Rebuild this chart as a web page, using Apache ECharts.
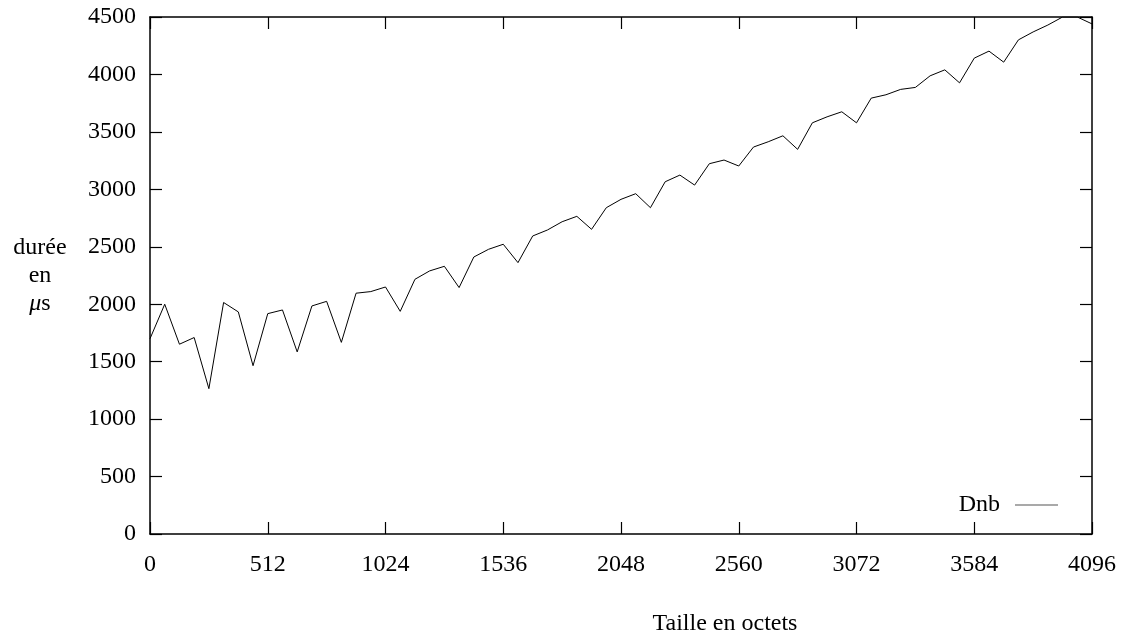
<!DOCTYPE html>
<html>
<head>
    <meta charset="UTF-8">
    <title>Dnb</title>
    <script src="https://cdn.jsdelivr.net/npm/echarts@6/dist/echarts.min.js"></script>
</head>
<body style="margin:0;background:#ffffff">
    <div id="chart" style="width:1125px; height:639px;"></div>
    <script>
        // taille des paquets (octets) et durée mesurée (µs)
        var sizes = [0, 64, 128, 192, 256, 320, 384, 448, 512, 576, 640, 704, 768, 832, 896, 960,
            1024, 1088, 1152, 1216, 1280, 1344, 1408, 1472, 1536, 1600, 1664, 1728, 1792, 1856, 1920, 1984,
            2048, 2112, 2176, 2240, 2304, 2368, 2432, 2496, 2560, 2624, 2688, 2752, 2816, 2880, 2944, 3008,
            3072, 3136, 3200, 3264, 3328, 3392, 3456, 3520, 3584, 3648, 3712, 3776, 3840, 3904, 3968, 4032, 4096];
        var dnb = [1700, 2000, 1652, 1710, 1265, 2015, 1933, 1465, 1918, 1950, 1585, 1985, 2025, 1668, 2096, 2110,
            2150, 1938, 2217, 2290, 2330, 2145, 2411, 2478, 2522, 2362, 2594, 2646, 2718, 2765, 2652, 2840,
            2913, 2962, 2840, 3066, 3124, 3037, 3223, 3255, 3203, 3368, 3414, 3466, 3348, 3579, 3631, 3675,
            3579, 3794, 3823, 3870, 3887, 3988, 4040, 3927, 4142, 4203, 4107, 4301, 4370, 4430, 4500, 4500, 4440];
        var xTicks = [0, 512, 1024, 1536, 2048, 2560, 3072, 3584, 4096];

        var font = 'Liberation Serif';
        var fsize = 24;

        var points = [];
        for (var i = 0; i < sizes.length; i++) {
            points.push([sizes[i], dnb[i]]);
        }

        var tick = {show: true, inside: true, length: 12, lineStyle: {color: '#000', width: 1.2}};
        var line = {show: true, onZero: false, lineStyle: {color: '#000', width: 1.5}};

        var chart = echarts.init(document.getElementById('chart'), null, {renderer: 'canvas'});
        chart.setOption({
            backgroundColor: '#ffffff',
            animation: false,
            grid: {left: 150, right: 33, top: 17, bottom: 105, outerBoundsMode: 'none'},
            xAxis: [{
                type: 'value', min: 0, max: 4096, interval: 512, position: 'bottom',
                axisLine: line, axisTick: tick, splitLine: {show: false},
                axisLabel: {margin: 19, color: '#000', fontFamily: font, fontSize: fsize,
                    formatter: function (v) { return xTicks.indexOf(v) >= 0 ? String(v) : ''; }}
            }, {
                type: 'value', min: 0, max: 4096, interval: 512, position: 'top',
                axisLine: line, axisTick: tick, splitLine: {show: false}, axisLabel: {show: false}
            }],
            yAxis: [{
                type: 'value', min: 0, max: 4500, interval: 500, position: 'left',
                axisLine: line, axisTick: tick, splitLine: {show: false},
                axisLabel: {margin: 14, color: '#000', fontFamily: font, fontSize: fsize,
                    padding: [4, 0, 0, 0],
                    formatter: function (v) { return String(v); }}
            }, {
                type: 'value', min: 0, max: 4500, interval: 500, position: 'right',
                axisLine: line, axisTick: tick, splitLine: {show: false}, axisLabel: {show: false}
            }],
            legend: {
                data: [{name: 'Dnb', icon: 'rect'}],
                right: 62, top: 488, align: 'right',
                itemWidth: 43, itemHeight: 1,
                itemStyle: {color: '#555'},
                textStyle: {color: '#000', fontFamily: font, fontSize: fsize, padding: [0, 10, 0, 0]}
            },
            graphic: [{
                type: 'text', x: 725, y: 624,
                style: {text: 'Taille en octets', font: fsize + 'px "' + font + '"', fill: '#000',
                    textAlign: 'center', textVerticalAlign: 'middle'}
            }, {
                type: 'text', x: 40, y: 276,
                style: {
                    text: '{a|durée}\n{a|en}\n{m|μ}{a|s}',
                    textAlign: 'center', textVerticalAlign: 'middle',
                    rich: {
                        a: {fontFamily: font, fontSize: fsize, lineHeight: 28, fill: '#000'},
                        m: {fontFamily: font, fontSize: fsize, fontStyle: 'italic', lineHeight: 28, fill: '#000'}
                    }
                }
            }],
            series: [{
                name: 'Dnb', type: 'line', data: points,
                symbol: 'none', clip: true,
                lineStyle: {color: '#000', width: 1}
            }]
        });
    </script>
</body>
</html>
